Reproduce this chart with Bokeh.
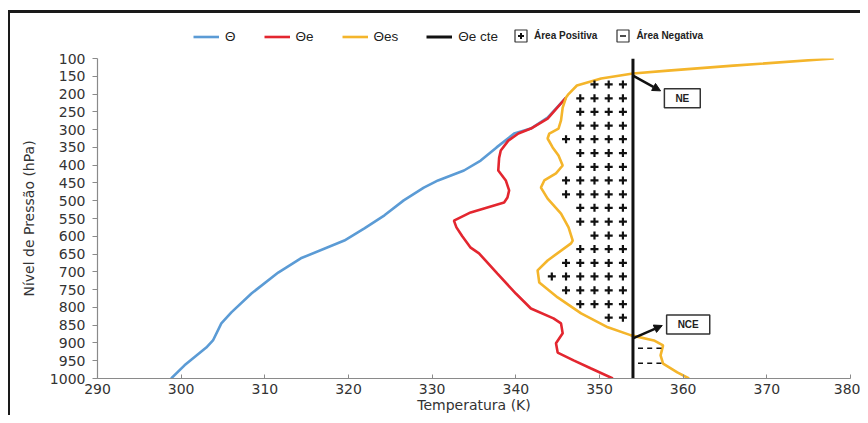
import numpy as np
from bokeh.plotting import figure
from bokeh.layouts import column
from bokeh.models import (Range1d, FixedTicker, Legend, LegendItem, Label,
                          Arrow, NormalHead)
from bokeh.embed import file_html
from bokeh.resources import INLINE

# ---------------- data ----------------
pressure_ticks = [100, 150, 200, 250, 300, 350, 400, 450, 500, 550, 600,
                  650, 700, 750, 800, 850, 900, 950, 1000]
temp_ticks = [290, 300, 310, 320, 330, 340, 350, 360, 370, 380]

# Θ (potential temperature)
theta_p = [1000, 963, 913, 893, 845, 814, 761, 702, 662, 612, 578, 541,
           499, 463, 443, 415, 387, 350, 311, 297, 266, 210]
theta_T = [298.8, 300.4, 303.0, 303.8, 304.8, 306.0, 308.4, 311.6, 314.3,
           319.5, 321.9, 324.3, 326.6, 329.0, 330.7, 333.8, 335.8, 337.7,
           339.8, 341.8, 343.8, 346.0]

# Θe (equivalent potential temperature)
theta_e_p = [1000, 972, 949, 927, 901, 873, 845, 831, 803, 761, 705, 648,
             632, 600, 575, 556, 533, 505, 491, 471, 443, 415, 380, 359,
             331, 311, 297, 269, 210]
theta_e_T = [351.6, 349.0, 346.9, 345.0, 344.8, 345.6, 345.4, 344.5, 341.8,
             340.0, 337.8, 335.6, 334.6, 333.6, 332.9, 332.6, 334.6, 338.6,
             339.0, 339.2, 338.8, 337.9, 338.0, 338.2, 339.1, 340.3, 341.8,
             343.8, 346.0]

# Θes (saturated equivalent potential temperature)
theta_es_p = [100, 120, 134, 142, 156, 176, 200, 210, 238, 274, 297, 311,
              325, 350, 373, 401, 423, 443, 463, 494, 536, 575, 612, 620,
              668, 696, 730, 772, 817, 856, 878, 893, 907, 935, 958, 983,
              1000]
theta_es_T = [378.0, 366.0, 358.2, 354.0, 350.2, 347.3, 346.3, 346.0, 345.6,
              345.4, 345.1, 344.0, 343.8, 344.4, 345.1, 345.6, 344.8, 343.4,
              343.0, 343.8, 345.4, 346.3, 346.8, 346.6, 343.8, 342.6, 342.8,
              345.0, 347.8, 351.0, 353.7, 356.5, 357.6, 357.3, 357.6, 359.3,
              360.7]

# Θe constant (parcel) and levels
theta_e_cte = 354.0
ne_level = 148      # Nível de Equilíbrio (hPa)
nce_level = 887     # Nível de Convecção Espontânea (hPa)

# hatching rows for the areas (hPa)
plus_rows = [173, 212, 250, 289, 327, 366, 405, 443, 482, 520, 559, 598,
             636, 675, 713, 752, 791, 829]
minus_rows = [915, 957]

BLUE = "#5b9bd5"
RED = "#e3262f"
YELLOW = "#f4b52b"
BLACK = "#111111"

# ---------------- main figure ----------------
p = figure(width=850, height=365,
           x_range=Range1d(temp_ticks[0], temp_ticks[-1]),
           y_range=Range1d(pressure_ticks[-1], pressure_ticks[0]),
           output_backend="svg", toolbar_location=None,
           min_border_left=87, min_border_right=10,
           min_border_top=8, min_border_bottom=37)
p.xgrid.visible = False
p.ygrid.visible = False
p.outline_line_color = None
p.background_fill_color = "white"

p.xaxis.ticker = FixedTicker(ticks=temp_ticks)
p.yaxis.ticker = FixedTicker(ticks=pressure_ticks)
for ax in (p.xaxis[0], p.yaxis[0]):
    ax.axis_line_color = "#8a8a8a"
    ax.axis_line_width = 1.2
    ax.major_tick_line_color = "#8a8a8a"
    ax.minor_tick_line_color = None
    ax.major_label_text_font = "DejaVu Sans"
    ax.major_label_text_font_size = "14px"
    ax.major_label_text_color = "#333333"
    ax.axis_label_text_font = "DejaVu Sans"
    ax.axis_label_text_font_size = "14px"
    ax.axis_label_text_font_style = "normal"
    ax.axis_label_text_color = "#333333"

p.xaxis.axis_label = "Temperatura (K)"
p.xaxis.major_tick_in = 4
p.xaxis.major_tick_out = 0
p.xaxis.major_label_standoff = 5
p.xaxis.axis_label_standoff = 0

p.yaxis.axis_label = "Nível de Pressão (hPa)"
p.yaxis.major_tick_in = 0
p.yaxis.major_tick_out = 5
p.yaxis.major_label_standoff = 7
p.yaxis.axis_label_standoff = 10

# curves
p.line(theta_T, theta_p, line_color=BLUE, line_width=2.6)
p.line(theta_e_T, theta_e_p, line_color=RED, line_width=2.6)
p.line(theta_es_T, theta_es_p, line_color=YELLOW, line_width=2.6)
p.line([theta_e_cte, theta_e_cte], [pressure_ticks[0], pressure_ticks[-1]],
       line_color=BLACK, line_width=3)

# hatching of positive / negative areas
plus_x, plus_y = [], []
for pr in plus_rows:
    lim = np.interp(pr, theta_es_p, theta_es_T) + 1.3
    x = theta_e_cte - 1.2
    while x > lim:
        plus_x.append(x)
        plus_y.append(pr)
        x -= 1.7
minus_x, minus_y = [], []
for pr in minus_rows:
    lim = np.interp(pr, theta_es_p, theta_es_T) - 0.1
    x = theta_e_cte + 0.9
    while x < lim:
        minus_x.append(x)
        minus_y.append(pr)
        x += 1.1

p.scatter(plus_x, plus_y, marker="cross", size=8, line_color=BLACK,
          line_width=2.2)
p.scatter(minus_x, minus_y, marker="dash", size=5, line_color=BLACK,
          line_width=1.5)

# NE / NCE annotations
p.add_layout(Arrow(end=NormalHead(size=8, fill_color=BLACK, line_color=BLACK),
                   x_start=theta_e_cte, y_start=ne_level,
                   x_end=theta_e_cte + 3.3, y_end=ne_level + 43,
                   line_color=BLACK, line_width=2.5))
p.add_layout(Arrow(end=NormalHead(size=8, fill_color=BLACK, line_color=BLACK),
                   x_start=theta_e_cte, y_start=nce_level,
                   x_end=theta_e_cte + 3.5, y_end=nce_level - 36,
                   line_color=BLACK, line_width=2.5))
for txt, lx, ly in (("NE", theta_e_cte + 5.9, ne_level + 64),
                    ("NCE", theta_e_cte + 6.6, nce_level - 39)):
    p.add_layout(Label(x=lx, y=ly, text=txt, text_align="center",
                       text_baseline="middle", text_font="Liberation Sans",
                       text_font_size="10px", text_font_style="bold",
                       text_color="#222222",
                       border_line_color="#333333", border_line_width=1.5,
                       background_fill_color="white",
                       padding=dict(left=11, right=11, top=4, bottom=4)))

# ---------------- legend strip (frame aligned with the main plot) ----------------
lg = figure(width=850, height=37, x_range=Range1d(0, 1), y_range=Range1d(0, 1),
            output_backend="svg", toolbar_location=None,
            x_axis_location=None, y_axis_location=None,
            min_border=0, min_border_left=0, min_border_right=0,
            min_border_top=0, min_border_bottom=0)
lg.grid.visible = False
lg.outline_line_color = None

# off-screen sample glyphs, used only to draw the legend symbols
off = [-5, -4]
l_theta = lg.line(off, off, line_color=BLUE, line_width=2.6)
l_theta_e = lg.line(off, off, line_color=RED, line_width=2.6)
l_theta_es = lg.line(off, off, line_color=YELLOW, line_width=2.6)
l_cte = lg.line(off, off, line_color=BLACK, line_width=3)
sq = lg.rect(x=off, y=off, width=1, height=1, fill_color="white",
             line_color="#333333", line_width=1.2)
cr = lg.scatter(x=off, y=off, marker="cross", line_color=BLACK, line_width=2)
ds = lg.scatter(x=off, y=off, marker="dash", line_color=BLACK, line_width=1.5)

leg1 = Legend(items=[LegendItem(label="Θ", renderers=[l_theta]),
                     LegendItem(label="Θe", renderers=[l_theta_e]),
                     LegendItem(label="Θes", renderers=[l_theta_es]),
                     LegendItem(label="Θe cte", renderers=[l_cte])],
              orientation="horizontal", location=(96, 6),
              glyph_width=26, glyph_height=15, label_standoff=6, spacing=28,
              label_width=0,
              padding=0, margin=0, border_line_alpha=0,
              background_fill_alpha=0, label_text_font="Liberation Sans",
              label_text_font_size="13.5px", label_text_color="#222222")
leg2 = Legend(items=[LegendItem(label="Área Positiva", renderers=[sq, cr]),
                     LegendItem(label="Área Negativa", renderers=[sq, ds])],
              orientation="horizontal", location=(416, 7),
              glyph_width=15, glyph_height=15, label_standoff=6, spacing=18,
              label_width=0,
              padding=0, margin=0, border_line_alpha=0,
              background_fill_alpha=0, label_text_font="Liberation Sans",
              label_text_font_size="10px", label_text_font_style="bold",
              label_text_color="#222222")
lg.add_layout(leg1, "center")
lg.add_layout(leg2, "center")

page = column(lg, p, spacing=0, margin=(10, 0, 0, 8))
page.styles = {"border-top": "3px solid #1a1a1a",
               "border-left": "2px solid #1a1a1a"}

open("out.html", "w").write(file_html(page, INLINE))
